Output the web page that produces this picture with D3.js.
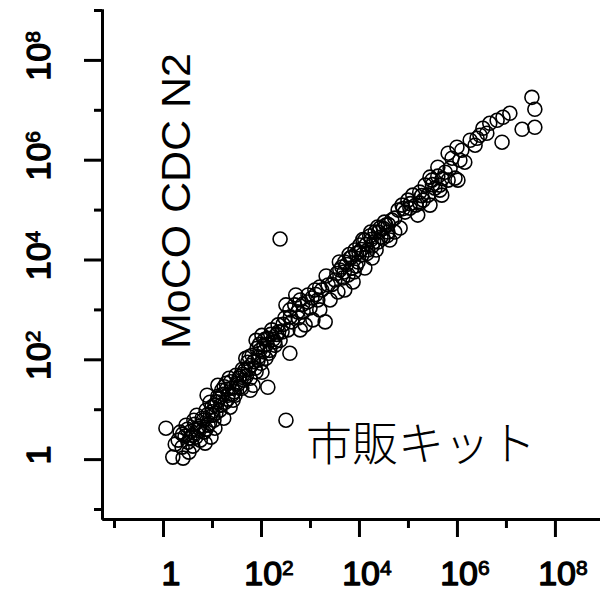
<!DOCTYPE html>
<html>
<head>
<meta charset="utf-8">
<script src="https://cdn.jsdelivr.net/npm/d3@7"></script>
<style>
  html, body { margin: 0; padding: 0; background: #fff; }
  svg { display: block; }
</style>
</head>
<body>
<svg width="600" height="592"></svg>
<script>
'use strict'

// log10 of the commercial-kit value (x) and of the MoCO CDC N2 value (y)
const kitExp = [
  0.06, 0.20, 0.41, 0.31, 0.39, 0.45, 0.51, 0.57, 0.47, 0.61, 0.67, 0.73, 0.63, 0.76, 0.84, 0.53, 0.86, 0.98, 0.92, 0.80, 1.06, 1.02,
  0.88, 0.96, 1.06, 1.12, 1.20, 1.16, 1.27, 1.33, 1.41, 1.29, 1.12, 1.47, 1.53, 1.37, 1.24, 1.57, 1.49, 1.61, 1.35,
  1.67, 1.73, 1.78, 1.82, 1.88, 1.94, 1.98, 2.02, 2.06, 2.10, 2.14, 1.92, 2.18, 2.22, 2.02, 2.29, 1.84, 2.14, 2.35, 2.39, 1.78,
  2.51, 2.39,
  2.49, 2.55, 2.59, 2.63, 2.69, 2.76, 2.80, 2.86, 2.90, 2.96, 3.00, 3.06, 3.16, 3.24, 3.31, 3.10, 3.37, 3.41, 3.51, 3.57, 2.59, 2.43, 2.80, 3.20, 2.51,
  3.61, 3.67, 3.71, 3.78, 3.82, 3.86, 3.92, 3.98, 4.02, 4.06, 4.12, 4.18, 4.22, 4.27, 4.33, 4.39, 4.43, 4.49, 4.55, 4.59, 3.88, 3.71, 4.27, 4.12, 4.63, 4.73,
  4.73, 4.80, 4.88, 4.94, 5.00, 5.04, 5.10, 5.16, 5.24, 5.31, 5.35, 5.41, 5.49, 5.55, 5.61, 5.65, 5.76, 5.82, 5.45, 5.20, 5.86, 5.96, 5.69,
  5.45, 5.61, 5.82, 6.00, 6.06, 6.16, 6.27, 6.47, 6.53, 6.67, 6.82, 6.94, 7.08, 6.92, 6.61, 6.41, 6.02, 5.65, 5.24, 7.53, 7.59, 7.33, 7.59, 6.10, 5.90, 6.37,
  0.35, 0.69, 0.90, 1.04, 1.43, 1.65, 1.69, 1.90, 2.71, 3.04, 3.33, 3.94, 4.35, 4.67, 4.84,
  0.25, 0.55, 0.70, 0.95, 1.00, 1.10, 1.22, 1.30, 1.45, 1.55, 1.62, 1.75, 1.85, 1.95, 2.05, 2.12, 2.25, 2.32, 2.45, 2.60, 2.75,
  2.85, 2.95, 3.12, 3.20, 3.45, 3.55, 3.65, 3.75, 3.85, 3.95, 4.05, 4.15, 4.25, 4.40, 4.50, 4.60, 4.90, 5.05, 5.28, 5.50, 5.70,
  0.40, 0.50, 0.60, 0.65, 0.75, 0.82, 0.88, 0.92, 1.00, 1.08, 1.14, 1.18, 1.25, 1.32, 1.38, 1.42, 1.50, 1.58, 1.63, 1.70, 1.76,
  1.80, 1.90, 1.97, 2.00, 2.08, 2.16, 2.20, 2.28, 2.36, 3.60, 3.70, 3.80, 3.90, 4.00, 4.08, 4.16, 4.24, 4.30, 4.38, 4.45, 4.52, 4.58
]
const mocoExp = [
  0.62, 0.04, 0.02, 0.38, 0.24, 0.46, 0.34, 0.56, 0.68, 0.26, 0.44, 0.62, 0.78, 0.38, 0.54, 0.14, 0.32, 0.44, 0.68, 0.82, 0.62, 0.88,
  0.98, 1.14, 1.08, 1.26, 1.38, 0.98, 1.14, 1.28, 1.42, 1.52, 1.48, 1.28, 1.50, 1.04, 0.82, 1.66, 1.68, 1.42, 1.62,
  1.78, 1.94, 1.62, 2.08, 1.82, 1.98, 2.18, 1.74, 2.28, 2.02, 2.42, 2.22, 2.18, 2.59, 2.48, 2.28, 1.48, 1.44, 2.69, 2.38, 1.38,
  0.78, 4.41,
  2.83, 2.59, 2.99, 2.75, 3.09, 2.83, 3.19, 2.95, 2.69, 3.29, 3.03, 2.79, 3.19, 3.39, 2.75, 3.39, 3.49, 3.19, 3.59, 3.35, 2.12, 2.55, 2.59, 2.99, 3.09,
  3.79, 3.63, 3.95, 3.69, 4.03, 3.83, 4.19, 3.95, 4.29, 4.09, 4.39, 4.19, 4.47, 4.27, 4.55, 4.35, 4.63, 4.43, 4.69, 4.55, 3.55, 3.39, 4.03, 3.83, 4.39, 4.55,
  4.83, 4.99, 5.09, 4.95, 5.19, 5.03, 5.29, 5.09, 5.35, 5.19, 5.49, 5.29, 5.59, 5.43, 5.67, 5.49, 5.75, 5.59, 5.09, 4.89, 5.83, 5.63, 5.29,
  5.65, 5.85, 6.13, 6.25, 5.99, 5.95, 6.39, 6.49, 6.63, 6.73, 6.79, 6.85, 6.93, 6.35, 6.53, 6.43, 5.59, 5.39, 5.13, 7.25, 7.01, 6.61, 6.65, 6.19, 6.03, 6.29,
  0.54, 0.88, 1.28, 0.78, 1.18, 1.58, 2.02, 2.38, 3.29, 3.23, 3.67, 3.87, 4.19, 4.79, 4.63,
  0.30, 0.42, 0.58, 0.72, 0.95, 1.15, 1.30, 1.40, 1.35, 1.62, 1.80, 1.80, 1.95, 2.05, 2.15, 2.30, 2.40, 2.50, 2.70, 2.85, 2.95,
  3.10, 3.15, 3.30, 3.45, 3.50, 3.72, 3.85, 3.90, 4.05, 4.12, 4.20, 4.30, 4.40, 4.55, 4.62, 4.70, 5.02, 5.12, 5.28, 5.50, 5.62,
  0.50, 0.60, 0.48, 0.70, 0.66, 0.78, 0.60, 0.90, 1.05, 0.92, 1.22, 1.08, 1.45, 1.20, 1.55, 1.30, 1.52, 1.45, 1.70, 1.66, 2.05,
  1.88, 1.75, 2.30, 1.92, 2.40, 2.12, 2.50, 2.35, 2.55, 3.95, 3.75, 4.10, 3.75, 4.15, 4.40, 4.12, 4.55, 4.35, 4.65, 4.45, 4.75, 4.48
]

const majorTicks = [1, 1e2, 1e4, 1e6, 1e8]
const minorTicks = [1e-1, 1e1, 1e3, 1e5, 1e7, 1e9]
const tickLabels = [
  { base: '1', sup: '' },
  { base: '10', sup: '2' },
  { base: '10', sup: '4' },
  { base: '10', sup: '6' },
  { base: '10', sup: '8' }
]
const yTitle = 'MoCO CDC N2'
const xTitle = '市販キット'

const sansFont = "'Liberation Sans', Arial, Helvetica, sans-serif"

const data = kitExp.map((e, i) => ({ x: Math.pow(10, e), y: Math.pow(10, mocoExp[i]) }))

const svg = d3.select('svg')

const xScale = d3.scaleLog()
  .domain([Math.pow(10, -1.245), Math.pow(10, 8.92)])
  .range([102, 600])

const yScale = d3.scaleLog()
  .domain([Math.pow(10, -1.2), Math.pow(10, 9.02)])
  .range([519, 9])

// points
svg.append('g')
  .selectAll('circle')
  .data(data)
  .join('circle')
  .attr('cx', d => xScale(d.x))
  .attr('cy', d => yScale(d.y))
  .attr('r', 7)
  .attr('fill', 'none')
  .attr('stroke', '#000')
  .attr('stroke-width', 1.6)

// axes: long ticks every second decade, short ones between
function styleAxis(g) {
  g.selectAll('path, line').attr('stroke', '#000').attr('stroke-width', 3)
  g.selectAll('text').remove()
}

svg.append('g')
  .attr('transform', 'translate(102,0)')
  .call(d3.axisLeft(yScale).tickValues(minorTicks).tickSize(8).tickSizeOuter(0))
  .call(styleAxis)
svg.append('g')
  .attr('transform', 'translate(102,0)')
  .call(d3.axisLeft(yScale).tickValues(majorTicks).tickSize(18).tickSizeOuter(0))
  .call(styleAxis)

svg.append('g')
  .attr('transform', 'translate(0,519)')
  .call(d3.axisBottom(xScale).tickValues(minorTicks.filter(v => v < 1e9)).tickSize(9).tickSizeOuter(0))
  .call(styleAxis)
svg.append('g')
  .attr('transform', 'translate(0,519)')
  .call(d3.axisBottom(xScale).tickValues(majorTicks).tickSize(18).tickSizeOuter(0))
  .call(styleAxis)

// bold face is missing for the sans family, so thicken the regular one
function addLabel(sel, lab) {
  sel.attr('font-family', sansFont)
    .attr('font-size', 34)
    .attr('fill', '#000')
    .attr('stroke', '#000')
    .attr('stroke-width', 1.4)
    .attr('stroke-linejoin', 'round')
  sel.append('tspan').text(lab.base)
  if (lab.sup) {
    sel.append('tspan')
      .attr('font-size', 21)
      .attr('stroke-width', 1)
      .attr('dy', -10)
      .text(lab.sup)
  }
}

// x tick labels
majorTicks.forEach((v, i) => {
  const t = svg.append('text')
    .attr('x', xScale(v) + 8)
    .attr('y', 585)
    .attr('text-anchor', 'middle')
  addLabel(t, tickLabels[i])
})

// y tick labels, rotated
majorTicks.forEach((v, i) => {
  const t = svg.append('text')
    .attr('text-anchor', 'middle')
    .attr('transform', 'translate(50,' + (yScale(v) - 4) + ') rotate(-90)')
  addLabel(t, tickLabels[i])
})

// titles inside the plot
svg.append('text')
  .attr('transform', 'translate(190,201) rotate(-90)')
  .attr('text-anchor', 'middle')
  .attr('font-family', sansFont)
  .attr('font-size', 41)
  .attr('textLength', 296)
  .attr('lengthAdjust', 'spacingAndGlyphs')
  .text(yTitle)

svg.append('text')
  .attr('x', 306)
  .attr('y', 460)
  .attr('font-family', "'Noto Sans CJK JP', sans-serif")
  .attr('font-weight', 300)
  .attr('font-size', 46)
  .text(xTitle)
</script>
</body>
</html>
